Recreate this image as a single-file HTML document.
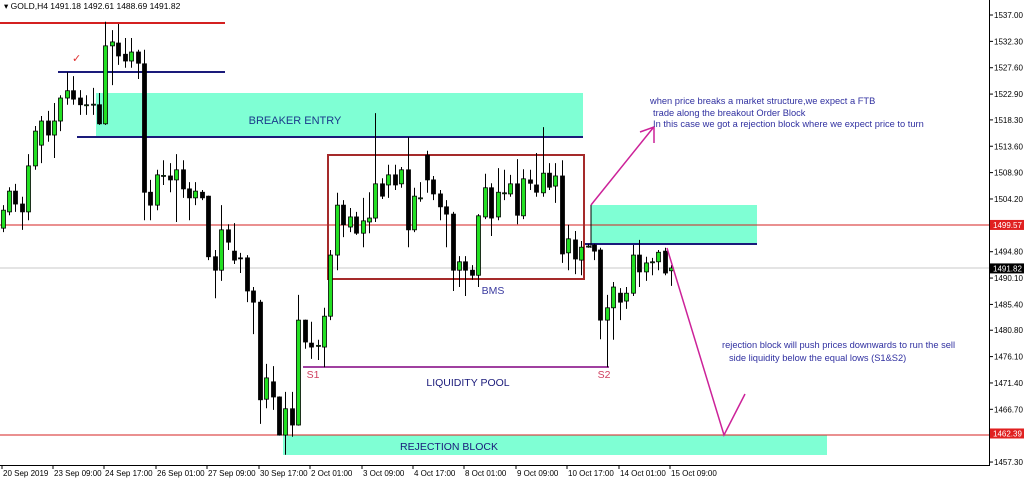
<!DOCTYPE html>
<html><head><meta charset="utf-8"><style>
html,body{margin:0;padding:0;background:#fff;}
svg{display:block;font-family:"Liberation Sans",Arial,sans-serif;}
</style></head><body>
<svg id="chart" width="1024" height="483" viewBox="0 0 1024 483" xmlns="http://www.w3.org/2000/svg">
<rect x="0" y="0" width="1024" height="483" fill="#fff"/>
<!-- zones -->
<rect x="96" y="93" width="487" height="44" fill="#7fffd4"/>
<rect x="591" y="205" width="166" height="39" fill="#7fffd4"/>
<rect x="283" y="435" width="544" height="20" fill="#7fffd4"/>
<!-- horizontal lines -->
<line x1="0" y1="23" x2="225" y2="23" stroke="#d42020" stroke-width="2"/>
<line x1="58" y1="72" x2="225" y2="72" stroke="#1a1a7a" stroke-width="2"/>
<line x1="77" y1="137" x2="583" y2="137" stroke="#1a1a7a" stroke-width="2"/>
<line x1="0" y1="225" x2="989" y2="225" stroke="#d42020" stroke-width="1"/>
<line x1="0" y1="268" x2="989" y2="268" stroke="#c8c8c8" stroke-width="1"/>
<line x1="0" y1="435" x2="989" y2="435" stroke="#d42020" stroke-width="1"/>
<line x1="585" y1="244" x2="757" y2="244" stroke="#1a1a7a" stroke-width="2"/>
<line x1="591" y1="205" x2="591" y2="248" stroke="#000" stroke-width="1"/>
<line x1="303" y1="367" x2="609" y2="367" stroke="#800080" stroke-width="1.5"/>
<rect x="328" y="155" width="256" height="124" fill="none" stroke="#a52a2a" stroke-width="2"/>
<g id="candles"></g>
<!-- arrows -->
<polyline points="591,205 653,128" fill="none" stroke="#cc2299" stroke-width="1.5"/>
<polyline points="640,132 654,127 654,143" fill="none" stroke="#cc2299" stroke-width="1.5"/>
<polyline points="667,248 724,435 745,394" fill="none" stroke="#cc2299" stroke-width="1.5"/>
<!-- texts -->
<text x="4" y="9" font-size="8.5" fill="#000">▾ GOLD,H4  1491.18 1492.61 1488.69 1491.82</text>
<text x="72" y="62" font-size="11" fill="#e03030">✓</text>
<text x="295" y="124" font-size="11" fill="#1a3a8a" text-anchor="middle">BREAKER ENTRY</text>
<text x="493" y="294" font-size="10.5" fill="#3a3aa0" text-anchor="middle">BMS</text>
<text x="313" y="378" font-size="10.5" fill="#d04060" text-anchor="middle">S1</text>
<text x="604" y="378" font-size="10.5" fill="#d04060" text-anchor="middle">S2</text>
<text x="468" y="386" font-size="10.5" fill="#1a1a7a" text-anchor="middle">LIQUIDITY POOL</text>
<text x="449" y="450" font-size="10.5" fill="#1a1a7a" text-anchor="middle">REJECTION BLOCK</text>
<g font-size="9.3" fill="#3030a0">
<text x="650" y="104">when price breaks a market structure,we expect a FTB</text>
<text x="653" y="116">trade along the breakout Order Block</text>
<text x="653" y="127">In this case we got a rejection block where we expect price to turn</text>
</g>
<g font-size="9.3" fill="#3030a0">
<text x="722" y="348">rejection block will push prices downwards to run the sell</text>
<text x="729" y="361">side liquidity below the equal lows (S1&amp;S2)</text>
</g>
<!-- axes -->
<line x1="989.5" y1="0" x2="989.5" y2="465" stroke="#000"/>
<line x1="0" y1="465.5" x2="990" y2="465.5" stroke="#000"/>
<g id="yticks" font-size="8" fill="#000"></g>
<g id="xticks" font-size="8" fill="#000"></g>
<g id="labels" font-size="8"></g>
</svg>
<script>
const opens=[1499.0,1501.9,1505.6,1503.3,1501.9,1510.1,1513.8,1518.1,1515.6,1518.1,1522.2,1523.5,1522.2,1521.0,1521.0,1521.0,1517.6,1531.5,1532.0,1530.0,1528.8,1530.4,1528.3,1505.4,1503.1,1508.3,1508.3,1507.6,1509.4,1506.0,1504.4,1505.4,1504.7,1493.9,1491.5,1498.7,1494.9,1493.7,1493.7,1487.8,1485.8,1468.5,1471.6,1468.9,1462.1,1466.8,1463.9,1482.6,1478.5,1478.0,1477.8,1483.3,1494.2,1503.1,1499.2,1501.0,1498.1,1500.1,1500.8,1506.9,1506.7,1508.5,1506.9,1509.4,1498.7,1504.4,1512.0,1507.6,1505.1,1502.8,1501.5,1491.5,1493.0,1491.5,1490.6,1501.0,1506.2,1501.0,1505.3,1505.1,1506.9,1501.2,1507.6,1506.7,1505.3,1508.8,1506.5,1508.3,1494.6,1496.9,1493.3,1495.8,1496.0,1495.1,1482.6,1484.8,1487.4,1486.0,1487.4,1494.2,1491.2,1493.0,1493.0,1494.9,1491.4];
const highs=[1503.1,1506.3,1506.9,1504.6,1512.2,1517.2,1519.0,1519.9,1521.3,1522.7,1526.8,1526.1,1523.6,1522.7,1524.0,1523.1,1535.8,1534.3,1535.4,1532.9,1532.9,1530.8,1530.8,1507.6,1509.4,1511.1,1510.6,1512.2,1511.1,1507.2,1507.2,1505.8,1504.8,1495.1,1503.1,1499.7,1499.9,1494.6,1494.2,1488.5,1486.2,1474.8,1474.4,1469.0,1469.8,1469.8,1487.1,1482.7,1482.3,1479.1,1484.8,1495.1,1505.3,1504.0,1502.6,1501.9,1504.4,1505.4,1519.5,1507.9,1510.3,1510.3,1509.9,1515.2,1506.2,1507.2,1512.8,1508.3,1505.8,1504.0,1501.9,1494.0,1494.0,1492.4,1501.5,1508.7,1507.0,1509.7,1509.4,1508.5,1511.3,1509.5,1509.4,1512.4,1517.0,1510.6,1510.6,1511.1,1499.6,1498.5,1496.7,1496.2,1496.2,1495.5,1487.1,1489.4,1488.3,1488.5,1496.0,1496.9,1493.9,1493.7,1495.1,1495.5,1492.4];
const lows=[1498.3,1501.3,1501.9,1498.7,1500.4,1509.4,1510.6,1514.4,1511.5,1516.3,1521.0,1521.0,1519.2,1519.2,1519.2,1517.4,1517.4,1524.5,1528.1,1527.6,1527.6,1525.6,1500.4,1500.4,1502.2,1506.7,1505.4,1500.1,1504.4,1500.4,1503.1,1504.0,1493.3,1486.5,1489.6,1495.1,1492.6,1491.0,1485.8,1480.1,1464.1,1466.9,1466.6,1462.0,1458.6,1461.8,1463.8,1477.5,1475.7,1475.5,1474.2,1482.6,1491.5,1497.4,1498.3,1497.8,1495.6,1498.1,1500.1,1504.2,1504.4,1505.8,1506.2,1495.6,1498.3,1503.7,1505.3,1504.0,1500.4,1495.6,1487.8,1488.5,1486.9,1489.8,1488.5,1500.6,1497.6,1500.4,1504.0,1504.6,1499.7,1500.6,1505.8,1504.6,1504.6,1505.8,1503.5,1492.8,1491.5,1490.8,1490.6,1495.5,1493.3,1479.2,1474.2,1479.1,1482.6,1484.6,1486.9,1488.5,1489.6,1490.6,1491.5,1490.6,1488.7];
const closes=[1502.2,1505.6,1503.3,1501.9,1510.1,1516.3,1518.1,1515.6,1518.1,1522.2,1523.5,1522.0,1521.0,1521.0,1521.1,1517.6,1531.5,1532.2,1529.7,1528.8,1530.4,1528.4,1505.4,1503.1,1508.5,1508.4,1507.6,1509.4,1506.0,1504.4,1505.6,1504.4,1493.9,1491.5,1498.7,1496.5,1493.3,1493.6,1487.8,1485.8,1468.4,1472.3,1468.9,1462.1,1466.8,1463.9,1482.6,1478.7,1477.8,1478.1,1483.3,1494.2,1503.1,1499.6,1501.0,1498.1,1500.3,1500.8,1506.9,1504.7,1508.5,1506.7,1509.4,1498.7,1504.7,1504.4,1507.6,1505.1,1502.8,1501.5,1491.5,1493.0,1491.5,1490.6,1501.2,1506.2,1500.8,1505.4,1505.3,1506.9,1501.3,1507.8,1507.0,1505.4,1508.8,1506.3,1508.3,1494.4,1497.1,1493.5,1495.6,1495.8,1494.9,1482.6,1484.8,1488.5,1485.8,1487.4,1494.2,1491.2,1492.8,1493.0,1494.7,1491.0,1491.9];
const yTickLabels=["1537.00","1532.30","1527.60","1522.90","1518.30","1513.60","1508.90","1504.20","1494.80","1490.10","1485.40","1480.80","1476.10","1471.40","1466.70","1457.30"];
const xTickLabels=["20 Sep 2019","23 Sep 09:00","24 Sep 17:00","26 Sep 01:00","27 Sep 09:00","30 Sep 17:00","2 Oct 01:00","3 Oct 09:00","4 Oct 17:00","8 Oct 01:00","9 Oct 09:00","10 Oct 17:00","14 Oct 01:00","15 Oct 09:00"];
const xTickIndex=[0,8,16,24,32,40,48,56,64,72,80,88,96,104];
const priceMarkers=["1499.57","1462.39","1491.82"];

const NS="http://www.w3.org/2000/svg";
function yS(p){return 15+(1537-p)*5.609;}
function xS(i){return 2.5+i*6.43;}
function mk(tag,attrs,parent){const e=document.createElementNS(NS,tag);for(const k in attrs)e.setAttribute(k,attrs[k]);parent.appendChild(e);return e;}
const cg=document.getElementById('candles');
for(let i=0;i<opens.length;i++){
  const x=Math.round(xS(i))+0.5;
  const w=mk('line',{x1:x,x2:x,y1:yS(highs[i]),y2:yS(lows[i]),stroke:'#000','stroke-width':1},cg);
  
  
  const up=closes[i]>=opens[i];
  const top=yS(Math.max(opens[i],closes[i])),bot=yS(Math.min(opens[i],closes[i]));
  const b=mk('rect',{x:x-2,y:top,width:4,height:Math.max(1,bot-top),fill:up?'#22e022':'#000',stroke:'#000','stroke-width':0.8},cg);
  
  
}
const yg=document.getElementById('yticks');
yTickLabels.forEach(l=>{
  const y=yS(parseFloat(l));
  const t=mk('line',{x1:989,x2:993,y1:y,y2:y,stroke:'#000'},yg);
  
  
  const tx=mk('text',{x:994,y:y+3},yg);tx.textContent=l;
  
  
});
const xg=document.getElementById('xticks');
xTickLabels.forEach((l,k)=>{
  const x=Math.round(xS(xTickIndex[k]))-1;
  const t=mk('line',{x1:x,x2:x,y1:465,y2:469,stroke:'#000'},xg);
  
  
  const tx=mk('text',{x:x+1,y:476},xg);tx.textContent=l;
  
  
});
const lg=document.getElementById('labels');
priceMarkers.forEach((l,k)=>{
  const y=yS(parseFloat(l));
  const r=mk('rect',{x:990,y:y-5,width:34,height:10,fill:k==2?'#000':'#e02020'},lg);
  
  
  const tx=mk('text',{x:993,y:y+3,fill:'#fff'},lg);tx.textContent=l;
  
  
});
</script>
</body></html>
